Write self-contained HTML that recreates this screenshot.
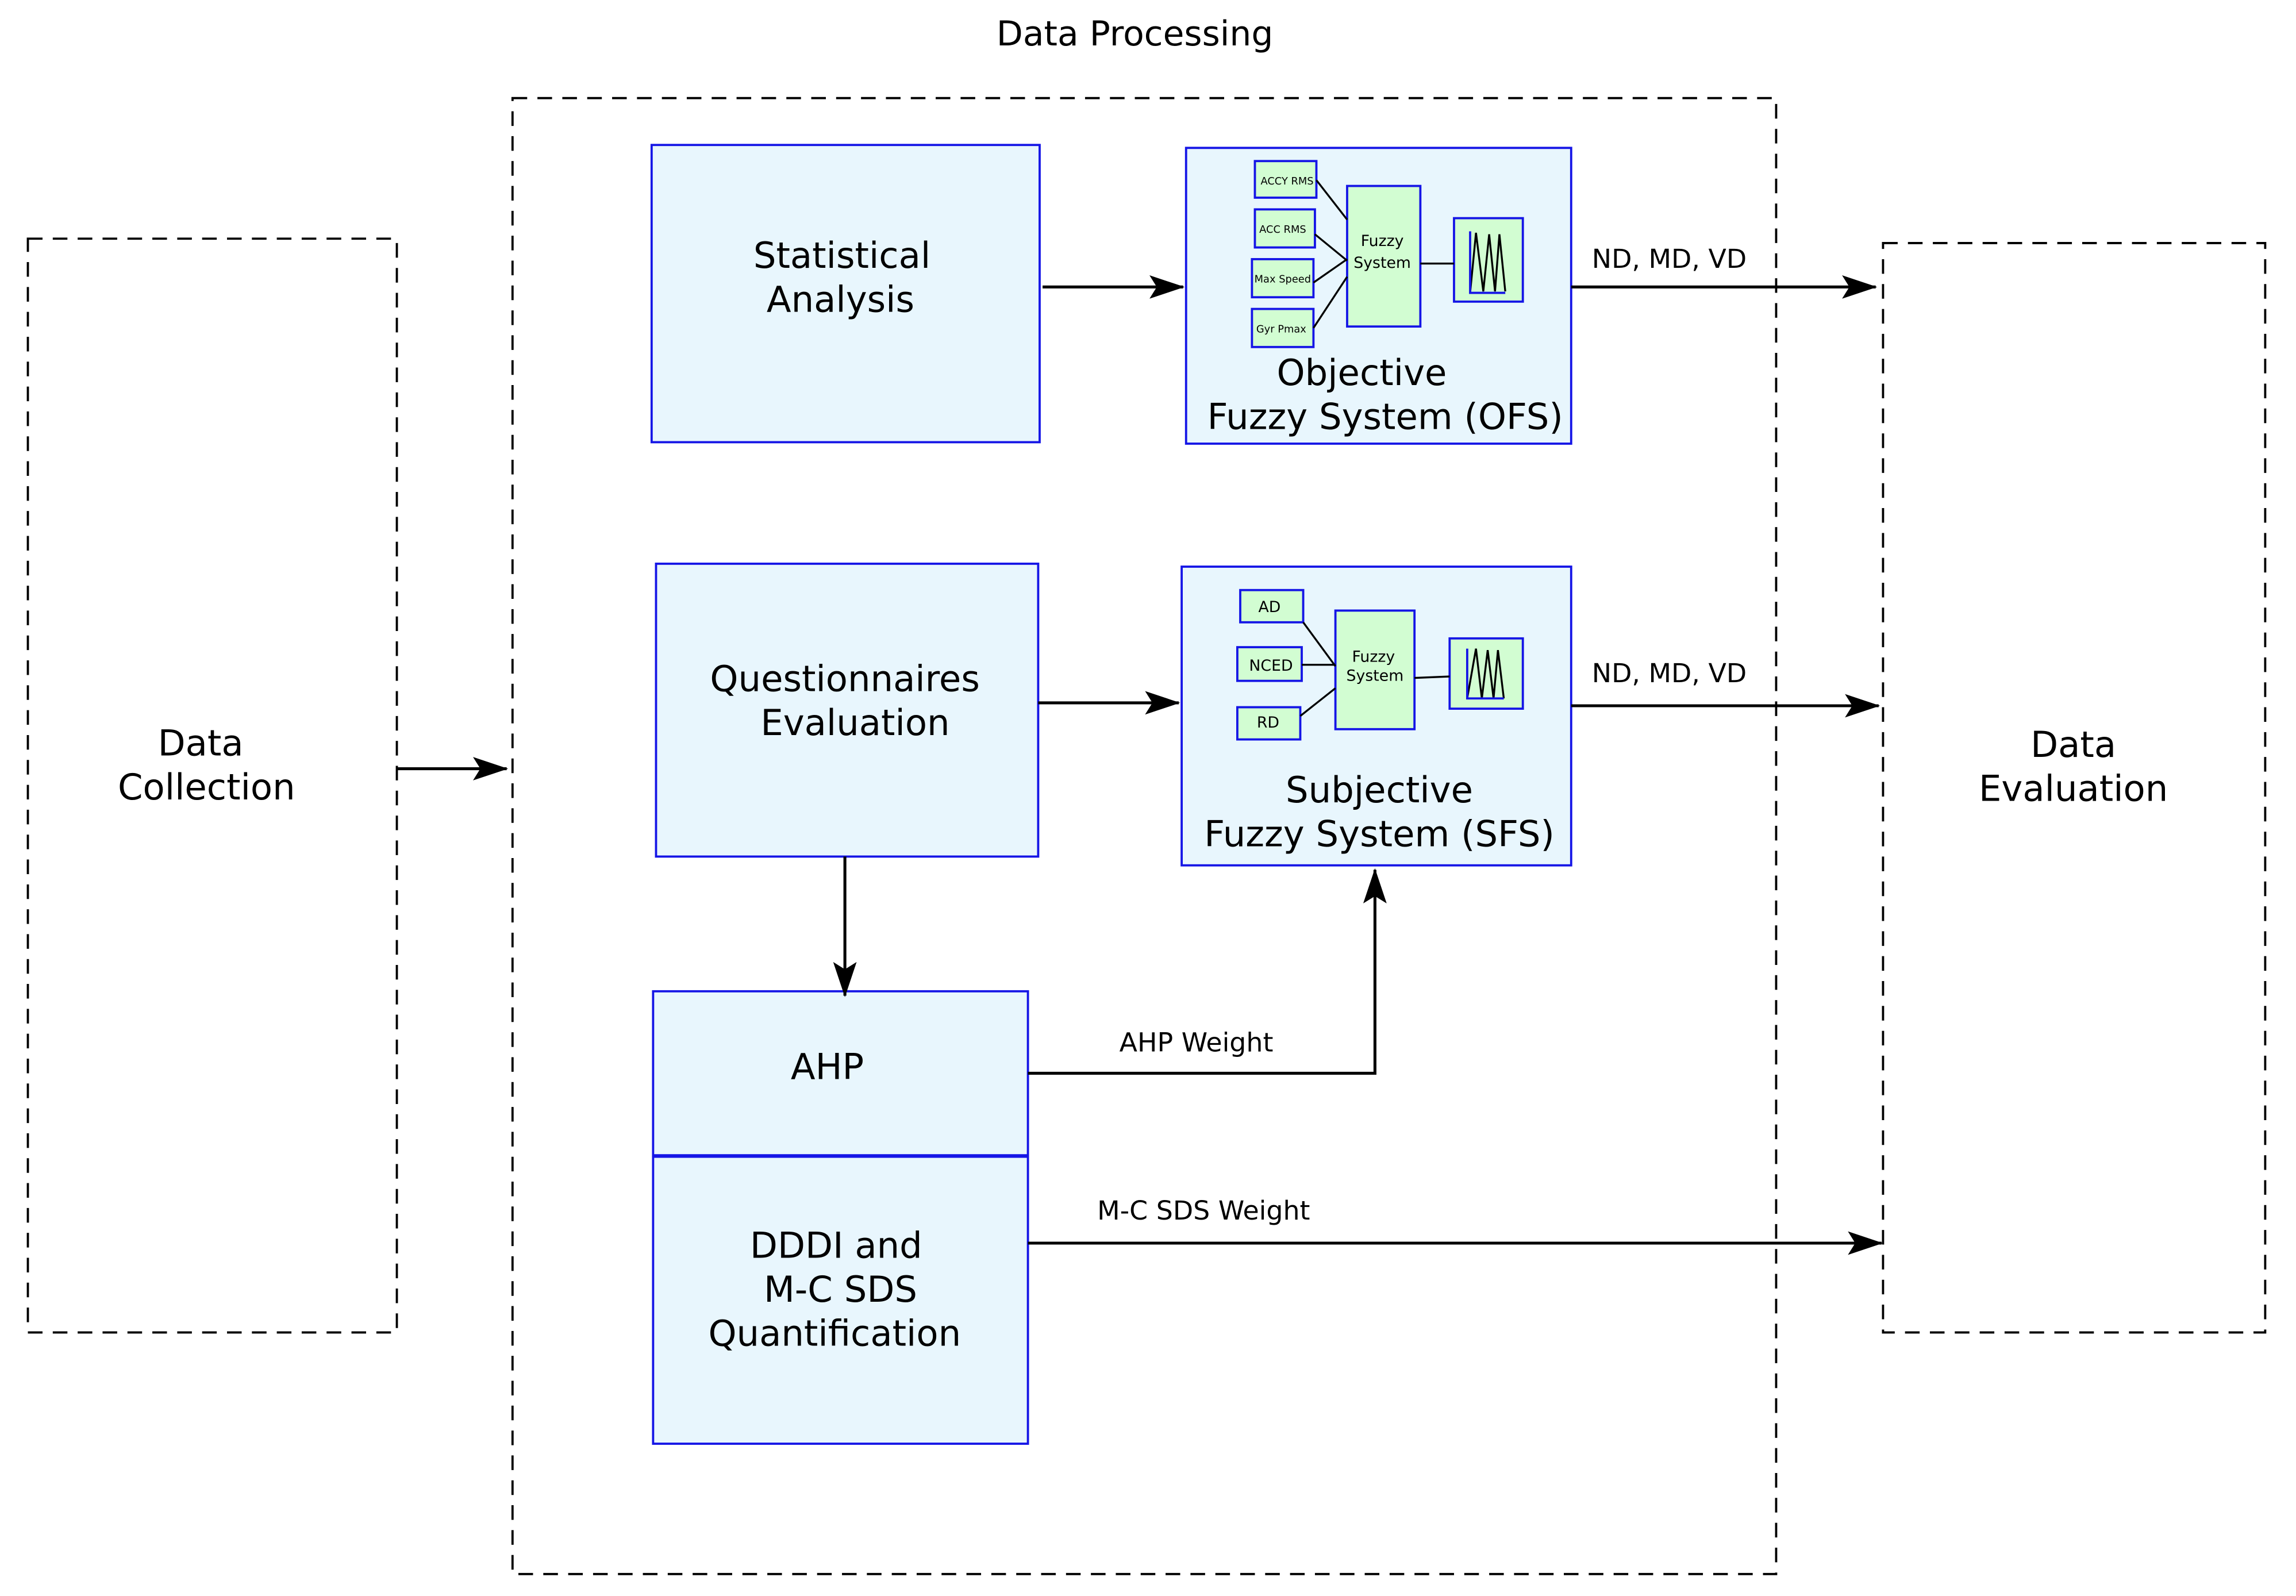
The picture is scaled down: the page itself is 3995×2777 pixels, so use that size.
<!DOCTYPE html>
<html><head><meta charset="utf-8"><style>
html,body{margin:0;padding:0;background:#fff}
svg{display:block}
text{font-family:"DejaVu Sans","Liberation Sans",sans-serif;fill:#000}
</style></head><body>
<svg width="3995" height="2777" viewBox="0 0 1568 1090" xmlns="http://www.w3.org/2000/svg">
<defs>
<marker id="ah" viewBox="0 0 24 16" refX="23" refY="8" markerWidth="24" markerHeight="16" markerUnits="userSpaceOnUse" orient="auto">
<path d="M0,0 L24,8 L0,16 L5,8 Z" fill="#000"/>
</marker>
</defs>
<g fill="none" stroke="#000" stroke-width="1.5" stroke-dasharray="10,7">
<rect x="350" y="67" width="863" height="1008"/>
<rect x="19" y="163" width="252" height="747"/>
<rect x="1286" y="166" width="261" height="744"/>
</g>
<text x="775" y="31" font-size="23.5" text-anchor="middle">Data Processing</text>
<g font-size="24.5" text-anchor="middle">
<text x="137" y="516">Data</text>
<text x="141" y="546">Collection</text>
<text x="1416" y="517">Data</text>
<text x="1416" y="547">Evaluation</text>
</g>

<g fill="#e8f6fd" stroke="#1515e6" stroke-width="1.5">
<rect x="445" y="99" width="265" height="203"/>
<rect x="810" y="101" width="263" height="202"/>
<rect x="448" y="385" width="261" height="200"/>
<rect x="807" y="387" width="266" height="204"/>
<rect x="446" y="677" width="256" height="112"/>
<rect x="446" y="790" width="256" height="196"/>
</g>
<g font-size="24.5" text-anchor="middle">
<text x="575" y="183">Statistical</text>
<text x="574" y="213">Analysis</text>
<text x="577" y="472">Questionnaires</text>
<text x="584" y="502">Evaluation</text>
<text x="565" y="737">AHP</text>
<text x="571" y="859">DDDI and</text>
<text x="574" y="889">M-C SDS</text>
<text x="570" y="919">Quantification</text>
<text x="930" y="263">Objective</text>
<text x="946" y="293">Fuzzy System (OFS)</text>
<text x="942" y="548">Subjective</text>
<text x="942" y="578">Fuzzy System (SFS)</text>
</g>

<g fill="#d2fdd2" stroke="#1515e6" stroke-width="1.5">
<rect x="857" y="110" width="42" height="25"/>
<rect x="857" y="143" width="41" height="26"/>
<rect x="855" y="177" width="42" height="26"/>
<rect x="855" y="211" width="42" height="26"/>
<rect x="920" y="127" width="50" height="96"/>
<rect x="993" y="149" width="47" height="57"/>
<rect x="847" y="403" width="43" height="22"/>
<rect x="845" y="442" width="44" height="23"/>
<rect x="845" y="483" width="43" height="22"/>
<rect x="912" y="417" width="54" height="81"/>
<rect x="990" y="436" width="50" height="48"/>
</g>
<g stroke="#000" stroke-width="1.3" fill="none">
<path d="M899,123 L920,150 M898,160 L920,178 M897,193 L920,177 M897,224 L920,189 M970,180 L993,180"/>
<path d="M890,425 L912,455 M889,454 L912,454 M888,489 L912,470 M966,463 L990,462"/>
<path d="M1004,200 L1008,159 L1013,199 L1017,160 L1021,199 L1024,160 L1028,199"/>
<path d="M1002,477 L1008,443 L1012,477 L1016,444 L1020,477 L1023,444 L1027,477"/>
</g>
<g stroke="#1515e6" stroke-width="1.5" fill="none">
<path d="M1004,158 L1004,200 L1028,200"/>
<path d="M1002,443 L1002,477 L1027,477"/>
</g>
<g font-size="7" text-anchor="middle">
<text x="879" y="126">ACCY RMS</text>
<text x="876" y="159">ACC RMS</text>
<text x="876" y="193">Max Speed</text>
<text x="875" y="227">Gyr Pmax</text>
</g>
<g font-size="10.5" text-anchor="middle">
<text x="944" y="168">Fuzzy</text>
<text x="944" y="183">System</text>
<text x="938" y="452">Fuzzy</text>
<text x="939" y="465">System</text>
<text x="867" y="418">AD</text>
<text x="868" y="458">NCED</text>
<text x="866" y="497">RD</text>
</g>

<g stroke="#000" stroke-width="2" fill="none" marker-end="url(#ah)">
<path d="M271,525 L346,525"/>
<path d="M712,196 L808,196"/>
<path d="M1073,196 L1281,196"/>
<path d="M709,480 L805,480"/>
<path d="M1073,482 L1283,482"/>
<path d="M577,585 L577,680"/>
<path d="M702,733 L939,733 L939,594"/>
<path d="M702,849 L1285,849"/>
</g>
<g font-size="18" text-anchor="middle">
<text x="1140" y="183">ND, MD, VD</text>
<text x="1140" y="466">ND, MD, VD</text>
<text x="817" y="718">AHP Weight</text>
<text x="822" y="833">M-C SDS Weight</text>
</g>
</svg>
</body></html>
